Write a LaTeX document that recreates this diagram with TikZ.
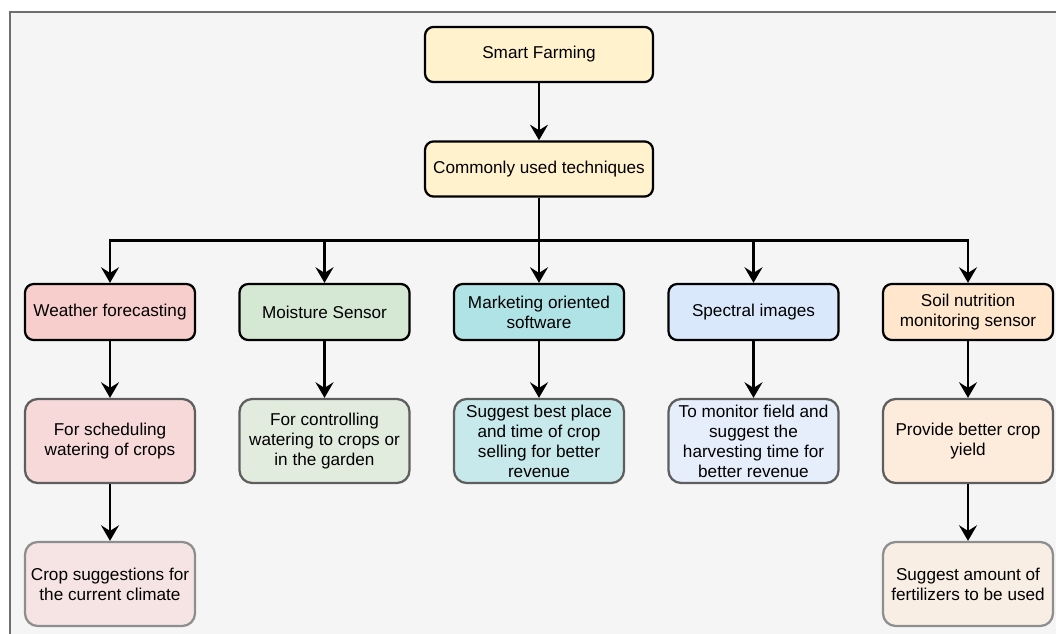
\documentclass[tikz,border=0pt]{standalone}
\usepackage{fontspec}
\setmainfont{Liberation Sans}
\usetikzlibrary{arrows.meta}
\definecolor{framegray}{HTML}{6E6E6E}
\definecolor{bggray}{HTML}{F5F5F5}
\definecolor{topyellow}{HTML}{FFF2CC}
\definecolor{wred}{HTML}{F8CECC}
\definecolor{wredlt}{HTML}{F7D9D9}
\definecolor{wredxl}{HTML}{F6E4E4}
\definecolor{mgreen}{HTML}{D5E8D4}
\definecolor{mgreenlt}{HTML}{E1ECDF}
\definecolor{kteal}{HTML}{B0E3E6}
\definecolor{ktealt}{HTML}{C8E9EB}
\definecolor{sblue}{HTML}{DAE8FC}
\definecolor{sbluelt}{HTML}{E6EEFB}
\definecolor{norange}{HTML}{FFE6CC}
\definecolor{norangelt}{HTML}{FDEBDB}
\definecolor{norangexl}{HTML}{F8EEE4}
\definecolor{detgray}{HTML}{5E5E5E}
\definecolor{extgray}{HTML}{8E8E8E}

\begin{document}
\begin{tikzpicture}[>=Latex,
 b/.style={rounded corners=6.2pt,draw=black,line width=1.6pt,align=center,
   minimum width=4.25cm,minimum height=1.4cm,inner sep=2pt,text=black,
   font=\fontsize{12.2}{14.2}\selectfont},
 t/.style={b,fill=topyellow,minimum width=5.7cm,minimum height=1.38cm},
 d/.style={b,draw=detgray,minimum height=2.1cm,rounded corners=9pt},
 e/.style={d,draw=extgray},
 a/.style={-{Stealth[length=3.9mm,width=4.5mm,inset=1.4mm]},line width=1.6pt}]
\useasboundingbox (0,0) rectangle (26.4,-15.85);
\clip (0,0) rectangle (26.4,-15.85);
\draw[framegray,line width=1.8pt,fill=bggray] (0.25,-0.30) rectangle (27,-16.5);
% top of the tree
\node[t] (sf) at (13.475,-1.3625) {Smart Farming};
\node[t] (ct) at (13.475,-4.225) {Commonly used techniques};
\coordinate (bus) at (13.475,-6.0125);
% techniques
\node[b,fill=wred] (wf) at (2.75,-7.8) {Weather forecasting};
\node[b,fill=mgreen] (ms) at (8.1125,-7.8) {Moisture Sensor};
\node[b,fill=kteal] (mo) at (13.475,-7.8) {Marketing oriented\\software};
\node[b,fill=sblue] (si) at (18.8375,-7.8) {Spectral images};
\node[b,fill=norange] (sn) at (24.2,-7.8) {Soil nutrition\\monitoring sensor};
% what they are used for
\node[d,fill=wredlt] (sched) at (2.75,-11.025) {For scheduling\\watering of crops};
\node[d,fill=mgreenlt] (ctrl) at (8.1125,-11.025) {For controlling\\watering to crops or\\in the garden};
\node[d,fill=ktealt] (sell) at (13.475,-11.025) {Suggest best place\\and time of crop\\selling for better\\revenue};
\node[d,fill=sbluelt] (harv) at (18.8375,-11.025) {To monitor field and\\suggest the\\harvesting time for\\better revenue};
\node[d,fill=norangelt] (yld) at (24.2,-11.025) {Provide better crop\\yield};
\node[e,fill=wredxl] (clim) at (2.75,-14.6) {Crop suggestions for\\the current climate};
\node[e,fill=norangexl] (fert) at (24.2,-14.6) {Suggest amount of\\fertilizers to be used};
% connectors
\draw[a] (sf)--(ct);
\foreach \n in {wf,ms,mo,si,sn}
  \draw[a] (ct.south) -- (bus) -| (\n.north);
\draw[a] (wf)--(sched); \draw[a] (ms)--(ctrl); \draw[a] (mo)--(sell);
\draw[a] (si)--(harv); \draw[a] (sn)--(yld);
\draw[a] (sched)--(clim); \draw[a] (yld)--(fert);
\end{tikzpicture}
\end{document}
